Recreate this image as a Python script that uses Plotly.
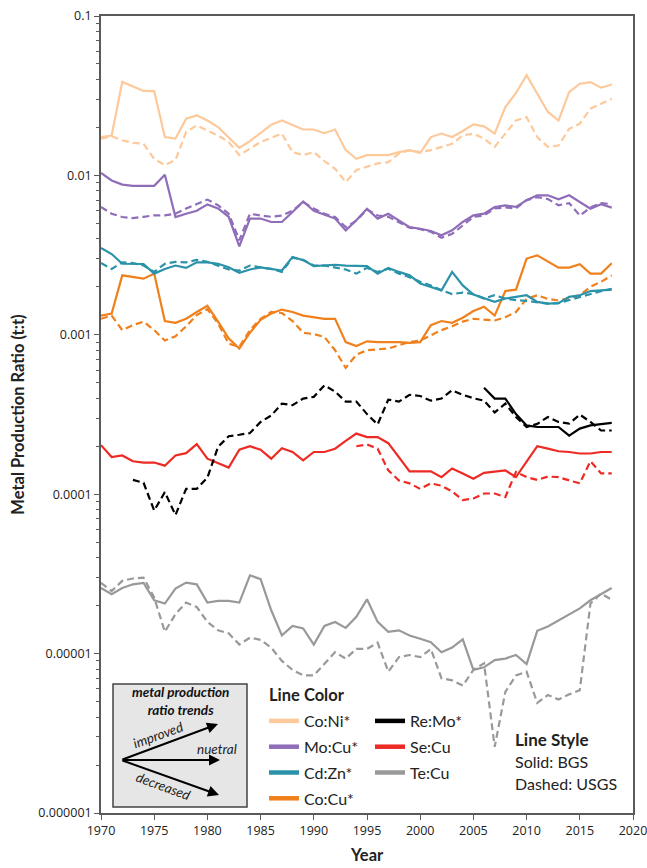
import plotly.graph_objects as go

years = list(range(1970, 2019))

# ---- BGS (solid) and USGS (dashed) production ratios, t:t ----
co_ni_bgs = [0.0174, 0.0178, 0.0386, 0.0362, 0.0339, 0.0338, 0.0174, 0.0170, 0.0227, 0.0238,
             0.0221, 0.0201, 0.0174, 0.0149, 0.0164, 0.0184, 0.0208, 0.0221, 0.0208, 0.0194,
             0.0194, 0.0184, 0.0194, 0.0144, 0.0127, 0.0134, 0.0134, 0.0134, 0.0140, 0.0144,
             0.0138, 0.0174, 0.0183, 0.0174, 0.0190, 0.0209, 0.0203, 0.0183, 0.0268, 0.0329,
             0.0425, 0.0326, 0.0250, 0.0221, 0.0333, 0.0376, 0.0385, 0.0355, 0.0372]
co_ni_usgs = [0.0170, 0.0176, 0.0166, 0.0160, 0.0158, 0.0127, 0.0116, 0.0125, 0.0187, 0.0206,
              0.0191, 0.0178, 0.0162, 0.0134, 0.0147, 0.0162, 0.0172, 0.0183, 0.0140, 0.0134,
              0.0140, 0.0123, 0.0110, 0.0091, 0.0108, 0.0113, 0.0119, 0.0121, 0.0137, 0.0144,
              0.0140, 0.0144, 0.0151, 0.0158, 0.0178, 0.0183, 0.0170, 0.0151, 0.0183, 0.0221,
              0.0232, 0.0174, 0.0151, 0.0154, 0.0196, 0.0211, 0.0262, 0.0282, 0.0303]

mo_cu_bgs = [0.01035, 0.0093, 0.00875, 0.0086, 0.0086, 0.0086, 0.0101, 0.00548, 0.00575, 0.0060,
             0.00658, 0.0062, 0.0055, 0.00359, 0.00536, 0.00536, 0.0051, 0.0051, 0.0059, 0.00687,
             0.0060, 0.0057, 0.00536, 0.00452, 0.00523, 0.00618, 0.00536, 0.00575, 0.00523, 0.00474,
             0.00463, 0.00448, 0.00421, 0.00452, 0.0051, 0.00562, 0.00575, 0.00634, 0.00649, 0.00634,
             0.00699, 0.0075, 0.0075, 0.00708, 0.0075, 0.00681, 0.00618, 0.0066, 0.00628]
mo_cu_usgs = [0.00634, 0.00575, 0.00548, 0.0054, 0.0055, 0.00562, 0.00562, 0.00575, 0.0062, 0.0066,
              0.00705, 0.0065, 0.00575, 0.00392, 0.00575, 0.0056, 0.0055, 0.0056, 0.0060, 0.0068,
              0.0062, 0.00575, 0.00548, 0.00474, 0.0052, 0.0061, 0.0056, 0.0055, 0.0051, 0.0047,
              0.0046, 0.00443, 0.00406, 0.0043, 0.00485, 0.0055, 0.0056, 0.0062, 0.0063, 0.0062,
              0.0070, 0.0073, 0.0071, 0.0065, 0.0067, 0.0056, 0.0063, 0.0067, 0.0066]

cd_zn_bgs = [0.00351, 0.00321, 0.00279, 0.00278, 0.00278, 0.00242, 0.00259, 0.00272, 0.00263, 0.00285,
             0.00285, 0.00279, 0.00265, 0.00245, 0.00257, 0.00265, 0.0026, 0.00253, 0.00308, 0.00294,
             0.0027, 0.00272, 0.00275, 0.00272, 0.0027, 0.0027, 0.00242, 0.00263, 0.00248, 0.00236,
             0.0021, 0.0020, 0.0019, 0.00248, 0.00204, 0.00179, 0.00169, 0.00161, 0.00169, 0.00173,
             0.00177, 0.00161, 0.00157, 0.00158, 0.00173, 0.00177, 0.00188, 0.0019, 0.00192]
cd_zn_usgs = [0.00282, 0.00259, 0.00285, 0.00282, 0.00272, 0.00248, 0.00279, 0.00287, 0.00285, 0.00295,
              0.00287, 0.00272, 0.00257, 0.00253, 0.00272, 0.00265, 0.00259, 0.00248, 0.00305, 0.00295,
              0.00272, 0.00272, 0.00265, 0.00257, 0.00242, 0.00263, 0.00248, 0.0026, 0.00242, 0.0023,
              0.00215, 0.00204, 0.0019, 0.0018, 0.00184, 0.0018, 0.00169, 0.00177, 0.00169, 0.00165,
              0.00163, 0.0016, 0.00157, 0.00158, 0.00165, 0.00172, 0.0018, 0.00188, 0.00194]

co_cu_bgs = [0.00132, 0.00136, 0.00236, 0.0023, 0.00225, 0.00242, 0.00122, 0.00119, 0.00126, 0.00139,
             0.00152, 0.00121, 0.00095, 0.00082, 0.00103, 0.00124, 0.00136, 0.00144, 0.00139, 0.00132,
             0.00129, 0.00126, 0.00126, 0.0009, 0.00085, 0.00091, 0.0009, 0.0009, 0.0009, 0.00089,
             0.0009, 0.00115, 0.00122, 0.00119, 0.00128, 0.00141, 0.0015, 0.00132, 0.00188, 0.00192,
             0.00301, 0.00315, 0.00287, 0.00264, 0.00264, 0.00277, 0.00242, 0.00242, 0.00281]
co_cu_usgs = [0.00126, 0.00132, 0.00107, 0.00115, 0.00121, 0.00107, 0.00092, 0.00098, 0.00113, 0.00133,
              0.00145, 0.00118, 0.00088, 0.00084, 0.00107, 0.00126, 0.00139, 0.00137, 0.00122, 0.00103,
              0.00101, 0.00097, 0.0008, 0.00062, 0.00075, 0.0008, 0.00081, 0.00082, 0.00086, 0.0009,
              0.00092, 0.00099, 0.00107, 0.00113, 0.00121, 0.00126, 0.00124, 0.00123, 0.00129, 0.00139,
              0.00168, 0.00177, 0.00168, 0.00164, 0.0017, 0.00177, 0.002, 0.00215, 0.00236]

re_mo_bgs_years = list(range(2006, 2019))
re_mo_bgs = [0.000466, 0.000398, 0.000398, 0.000318, 0.00027, 0.000264, 0.000264, 0.000264,
             0.000233, 0.000258, 0.00027, 0.000274, 0.00028]
re_mo_usgs_years = list(range(1973, 2019))
re_mo_usgs = [0.000123, 0.000118, 0.000079, 0.000103, 0.000074, 0.000108, 0.000108,
              0.000127, 0.000198, 0.000231, 0.000236, 0.000242, 0.000284, 0.000312, 0.00037, 0.000362, 0.000398,
              0.000408, 0.000482, 0.00044, 0.000381, 0.000381, 0.000318, 0.000274, 0.000392, 0.000381, 0.00042,
              0.000413, 0.000386, 0.000398, 0.000449, 0.00042, 0.0004, 0.000386, 0.000326, 0.00037, 0.000305,
              0.000264, 0.000276, 0.000305, 0.000284, 0.000277, 0.000316, 0.000284, 0.000251, 0.000251]

se_cu_bgs = [0.000203, 0.000171, 0.000175, 0.000161, 0.000158, 0.000158, 0.000151, 0.000175, 0.000181, 0.000206,
             0.000167, 0.000157, 0.000147, 0.00019, 0.0002, 0.00019, 0.000167, 0.000194, 0.000184, 0.000163,
             0.000184, 0.000184, 0.000193, 0.000216, 0.00024, 0.000228, 0.000228, 0.000209, 0.000171, 0.000139,
             0.000139, 0.000139, 0.000128, 0.000145, 0.000135, 0.000125, 0.000136, 0.000138, 0.000141, 0.000128,
             0.00016, 0.0002, 0.000193, 0.000186, 0.000184, 0.00018, 0.00018, 0.000184, 0.000184]
se_cu_usgs_years = list(range(1994, 2019))
se_cu_usgs = [0.0002, 0.000205, 0.000193, 0.000141, 0.000122, 0.000117,
              0.000108, 0.000117, 0.000113, 0.000104, 0.000092, 0.000094, 0.000101, 0.000101, 0.000096, 0.000138,
              0.000128, 0.000123, 0.000129, 0.000128, 0.000122, 0.000117, 0.000161, 0.000135, 0.000135]

te_cu_bgs = [2.58e-5, 2.36e-5, 2.58e-5, 2.72e-5, 2.78e-5, 2.16e-5, 2.06e-5, 2.56e-5, 2.79e-5, 2.72e-5,
             2.09e-5, 2.14e-5, 2.14e-5, 2.09e-5, 3.10e-5, 2.93e-5, 1.87e-5, 1.30e-5, 1.49e-5, 1.44e-5,
             1.14e-5, 1.49e-5, 1.58e-5, 1.45e-5, 1.70e-5, 2.19e-5, 1.58e-5, 1.37e-5, 1.40e-5, 1.30e-5,
             1.24e-5, 1.18e-5, 1.02e-5, 1.09e-5, 1.23e-5, 7.9e-6, 8.2e-6, 9.1e-6, 9.3e-6, 9.8e-6,
             8.6e-6, 1.39e-5, 1.48e-5, 1.62e-5, 1.76e-5, 1.92e-5, 2.16e-5, 2.35e-5, 2.58e-5]
te_cu_usgs = [2.78e-5, 2.47e-5, 2.86e-5, 2.96e-5, 3.00e-5, 2.25e-5, 1.37e-5, 1.77e-5, 2.09e-5, 1.96e-5,
              1.58e-5, 1.40e-5, 1.34e-5, 1.14e-5, 1.26e-5, 1.22e-5, 1.09e-5, 9.0e-6, 7.9e-6, 7.3e-6,
              7.3e-6, 8.6e-6, 1.02e-5, 9.3e-6, 1.07e-5, 1.07e-5, 1.17e-5, 7.7e-6, 9.5e-6, 9.8e-6,
              9.5e-6, 1.07e-5, 7.0e-6, 6.8e-6, 6.3e-6, 7.9e-6, 8.7e-6, 2.6e-6, 5.75e-6, 7.3e-6,
              7.7e-6, 4.9e-6, 5.5e-6, 5.15e-6, 5.55e-6, 5.9e-6, 2.06e-5, 2.38e-5, 2.18e-5]

y_tick_vals = [1e-6, 1e-5, 1e-4, 1e-3, 1e-2, 1e-1]
y_tick_text = ["0.000001", "0.00001", "0.0001", "0.001", "0.01", "0.1"]
x_tick_vals = list(range(1970, 2021, 5))

# series: name, colour, (bgs years, values), (usgs years, values), legend column
series = [
    ("Co:Ni*", "#FDC99A", (years, co_ni_bgs), (years, co_ni_usgs), "legend"),
    ("Mo:Cu*", "#8F6DB8", (years, mo_cu_bgs), (years, mo_cu_usgs), "legend"),
    ("Cd:Zn*", "#2B93A9", (years, cd_zn_bgs), (years, cd_zn_usgs), "legend"),
    ("Co:Cu*", "#F0801C", (years, co_cu_bgs), (years, co_cu_usgs), "legend"),
    ("Re:Mo*", "#000000", (re_mo_bgs_years, re_mo_bgs), (re_mo_usgs_years, re_mo_usgs), "legend2"),
    ("Se:Cu", "#EE2A24", (years, se_cu_bgs), (se_cu_usgs_years, se_cu_usgs), "legend2"),
    ("Te:Cu", "#999999", (years, te_cu_bgs), (years, te_cu_usgs), "legend2"),
]

LINE_W = 2.2
DASH = "7px,4px"

fig = go.Figure()
# draw order: lower series first so upper ones sit on top
for name, color, (xb, yb), (xu, yu), leg in reversed(series):
    fig.add_trace(go.Scatter(x=xu, y=yu, mode="lines", showlegend=False,
                             line=dict(color=color, width=LINE_W, dash=DASH)))
    fig.add_trace(go.Scatter(x=xb, y=yb, mode="lines", showlegend=False,
                             line=dict(color=color, width=LINE_W)))

# legend swatches (thicker than the plotted lines)
for name, color, _, _, leg in series:
    fig.add_trace(go.Scatter(x=[None], y=[None], mode="lines", name=name,
                             legend=leg, legendgroup=name,
                             line=dict(color=color, width=4.5)))

AXIS_COL = "#5a5a5a"
TXT = "#222222"

# minor log ticks (2..9 in each decade)
minor_vals = [m * 10.0 ** e for e in range(-6, -1) for m in range(2, 10)]

# plot area in pixels: x 101..633, y 16..813
L, R, T, B = 101, 14, 16, 55
PW, PH = 647 - L - R, 868 - T - B


def px(x):
    return (x - L) / PW


def py(y):
    return (868 - B - y) / PH


legend_common = dict(
    xanchor="left", yanchor="top", y=py(704),
    bgcolor="rgba(0,0,0,0)", font=dict(family="Lato", size=16, color=TXT),
    tracegroupgap=2, itemwidth=30,
)

fig.update_layout(
    template="none",
    width=647, height=868,
    margin=dict(l=L, r=R, t=T, b=B, autoexpand=False),
    paper_bgcolor="white", plot_bgcolor="white",
    font=dict(family="Lato", color=TXT),
    showlegend=True,
    legend=dict(x=px(264), **legend_common),
    legend2=dict(x=px(370), **legend_common),
    xaxis=dict(
        range=[1970, 2020], tickmode="array", tickvals=x_tick_vals,
        showgrid=False, zeroline=False, automargin=False,
        showline=True, linecolor=AXIS_COL, linewidth=1.6, mirror=True,
        ticks="outside", ticklen=5, tickwidth=1.2, tickcolor=AXIS_COL,
        ticklabeloverflow="allow",
        tickfont=dict(family="Open Sans", size=12.5, color=TXT),
    ),
    yaxis=dict(
        type="log", range=[-6, -1], tickmode="array",
        tickvals=y_tick_vals, ticktext=y_tick_text,
        showgrid=False, zeroline=False, automargin=False,
        showline=True, linecolor=AXIS_COL, linewidth=1.6, mirror=True,
        ticks="outside", ticklen=5, tickwidth=1.2, tickcolor=AXIS_COL,
        ticklabeloverflow="allow",
        tickfont=dict(family="Open Sans", size=12.5, color=TXT),
        minor=dict(tickmode="array", tickvals=minor_vals, ticks="outside",
                   ticklen=3, tickwidth=1, tickcolor=AXIS_COL, showgrid=False),
        title=dict(text="Metal Production Ratio (t:t)",
                   font=dict(family="Lato", size=16.5, weight="bold", color=TXT),
                   standoff=10),
    ),
)


def note(x, y, text, font, xanchor="center", angle=0):
    fig.add_annotation(xref="paper", yref="paper", x=px(x), y=py(y), text=text,
                       showarrow=False, xanchor=xanchor, yanchor="middle",
                       textangle=angle, font=font)


# x-axis title, under the tick labels
note(367, 855, "Year", dict(family="Lato", size=16.5, weight="bold", color=TXT))

# legend heading
note(267, 695, "Line Color", dict(family="Lato", size=16.5, weight="bold", color=TXT), "left")

# ---- inset explaining trend directions ----
fig.add_shape(type="rect", xref="paper", yref="paper",
              x0=px(113), x1=px(247), y0=py(807), y1=py(684),
              fillcolor="#e6e6e6", line=dict(color="#444444", width=1.5), layer="above")

note(180, 700.5, "metal production<br>ratio trends",
     dict(family="Lato", size=13.5, weight="bold", style="italic", color="#111"))

arrow_style = dict(xref="paper", yref="paper", showarrow=True, arrowhead=2,
                   arrowsize=1.1, arrowwidth=2, arrowcolor="#000", text="")
fig.add_annotation(x=px(218), y=py(724), ax=-97, ay=36, **arrow_style)
fig.add_annotation(x=px(220), y=py(760), ax=-99, ay=0, **arrow_style)
fig.add_annotation(x=px(219), y=py(795), ax=-98, ay=-35, **arrow_style)

lab_font = dict(family="Lato", size=13.5, style="italic", color="#222")
note(158, 735, "improved", lab_font, angle=-20)
note(217, 749, "nuetral", lab_font)
note(163, 786, "decreased", lab_font, angle=20)

# ---- line style key ----
note(513, 739, "Line Style", dict(family="Lato", size=17, weight="bold", color=TXT), "left")
note(513, 761, "Solid: BGS", dict(family="Lato", size=16, color=TXT), "left")
note(513, 783, "Dashed: USGS", dict(family="Lato", size=16, color=TXT), "left")

fig.write_html("out.html")
